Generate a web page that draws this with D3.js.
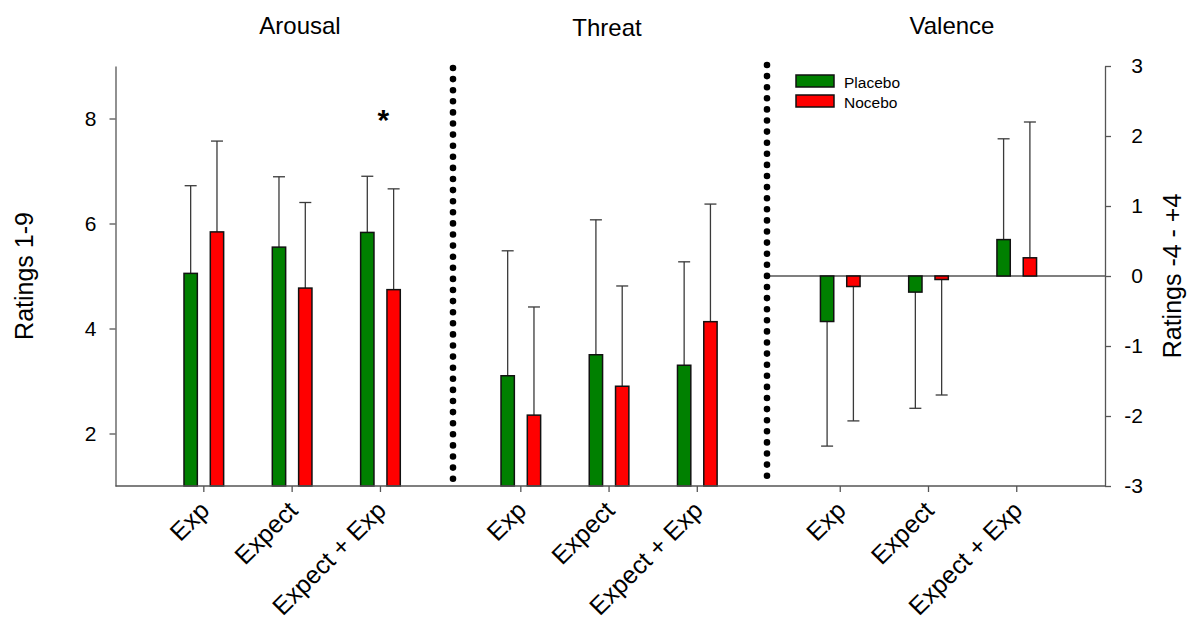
<!DOCTYPE html>
<html>
<head>
<meta charset="utf-8">
<script src="https://cdn.jsdelivr.net/npm/d3@7"></script>
<style>
  html, body { margin: 0; padding: 0; background: #fff; }
  svg { display: block; }
  text { font-family: Arial, "Liberation Sans", sans-serif; fill: #000; }
</style>
</head>
<body>
<svg id="chart" width="1189" height="619"></svg>
<script>
// Conditions along the x axis of each panel
const categories = ["Exp", "Expect", "Expect + Exp"];
const panelTitles = ["Arousal", "Threat", "Valence"];
const seriesNames = ["Placebo", "Nocebo"];
const seriesColors = ["#008000", "#ff0000"];

// Mean ratings and SD (error bars drawn away from the baseline)
const arousalPlacebo = [5.05, 5.55, 5.83];
const arousalPlaceboSD = [1.67, 1.34, 1.07];
const arousalNocebo = [5.84, 4.77, 4.74];
const arousalNoceboSD = [1.73, 1.63, 1.92];

const threatPlacebo = [3.10, 3.50, 3.30];
const threatPlaceboSD = [2.38, 2.57, 1.97];
const threatNocebo = [2.35, 2.90, 4.13];
const threatNoceboSD = [2.06, 1.91, 2.24];

const valencePlacebo = [-0.65, -0.23, 0.52];
const valencePlaceboSD = [1.78, 1.66, 1.44];
const valenceNocebo = [-0.15, -0.05, 0.26];
const valenceNoceboSD = [1.92, 1.65, 1.94];

// Axis ticks
const leftTicks = [2, 4, 6, 8];
const rightTicks = [-3, -2, -1, 0, 1, 2, 3];

// Significance marker: panel index, category, level on the 1-9 scale
const significance = [{ panel: 0, category: "Expect + Exp", level: 8.12, label: "*" }];

const svg = d3.select("#chart");

const plotTop = 66, plotBottom = 486;
const plotLeft = 115.5, plotRight = 1105;

const yLeft = d3.scaleLinear().domain([1, 9]).range([plotBottom, plotTop]);
const yRight = d3.scaleLinear().domain([-3, 3]).range([plotBottom, plotTop]);

// Each panel has its own position scale (category index 1..3)
const panelLayout = [
  { range: [plotLeft, 452], domain: [0, 3.81] },
  { range: [452, 767], domain: [0.22, 3.79] },
  { range: [767, plotRight], domain: [0.17, 4.0] }
];
const xScales = panelLayout.map(p => d3.scaleLinear().domain(p.domain).range(p.range));

const panels = [
  { y: yLeft, base: 1, series: [[arousalPlacebo, arousalPlaceboSD], [arousalNocebo, arousalNoceboSD]] },
  { y: yLeft, base: 1, series: [[threatPlacebo, threatPlaceboSD], [threatNocebo, threatNoceboSD]] },
  { y: yRight, base: 0, series: [[valencePlacebo, valencePlaceboSD], [valenceNocebo, valenceNoceboSD]] }
];

const barWidth = 0.151;   // in category units
const barOffset = 0.149;  // centre offset of each bar from the category tick
const capHalf = 6;        // px
const fontStack = "Arial, 'Liberation Sans', sans-serif";

// Zero line in the valence panel
svg.append("line")
  .attr("x1", panelLayout[2].range[0]).attr("x2", plotRight)
  .attr("y1", yRight(0)).attr("y2", yRight(0))
  .attr("stroke", "#000").attr("stroke-width", 1.1);

// Bars and error bars
panels.forEach((panel, pi) => {
  const x = xScales[pi];
  const g = svg.append("g");
  panel.series.forEach(([means, sds], si) => {
    const dx = si === 0 ? -barOffset : barOffset;
    categories.forEach((cat, ci) => {
      const pos = ci + 1 + dx;
      const v = means[ci];
      const sd = sds[ci];
      const end = v >= panel.base ? v + sd : v - sd;
      const cx = x(pos);
      // error bar
      g.append("line")
        .attr("x1", cx).attr("x2", cx)
        .attr("y1", panel.y(v)).attr("y2", panel.y(end))
        .attr("stroke", "#3a3a3a").attr("stroke-width", 1.3);
      g.append("line")
        .attr("x1", cx - capHalf).attr("x2", cx + capHalf)
        .attr("y1", panel.y(end)).attr("y2", panel.y(end))
        .attr("stroke", "#3a3a3a").attr("stroke-width", 1.3);
      // bar
      const x0 = x(pos - barWidth / 2), x1 = x(pos + barWidth / 2);
      g.append("rect")
        .attr("x", x0).attr("width", x1 - x0)
        .attr("y", Math.min(panel.y(v), panel.y(panel.base)))
        .attr("height", Math.abs(panel.y(v) - panel.y(panel.base)))
        .attr("fill", seriesColors[si])
        .attr("stroke", "#111").attr("stroke-width", 1.5);
    });
  });

  // category ticks and labels
  categories.forEach((cat, ci) => {
    const tx = x(ci + 1);
    svg.append("line")
      .attr("x1", tx).attr("x2", tx)
      .attr("y1", plotBottom).attr("y2", plotBottom + 6)
      .attr("stroke", "#555").attr("stroke-width", 1.3);
    svg.append("text")
      .attr("transform", `translate(${tx + 7},${plotBottom + 26}) rotate(-45)`)
      .attr("text-anchor", "end")
      .style("font-size", "25px")
      .text(cat);
  });

  // panel title
  const titleX = [300, 607, 952][pi];
  const titleY = [34, 36, 34][pi];
  svg.append("text")
    .attr("x", titleX).attr("y", titleY)
    .attr("text-anchor", "middle")
    .style("font-size", "24px")
    .text(panelTitles[pi]);
});

// Left axis
const leftAxis = svg.append("g").attr("transform", `translate(${plotLeft},0)`)
  .call(d3.axisLeft(yLeft).tickValues(leftTicks).tickSize(6).tickPadding(13)
    .tickSizeOuter(0).tickFormat(d => String(d)));
leftAxis.select(".domain").attr("stroke", "#555").attr("stroke-width", 1.3);
leftAxis.selectAll(".tick line").attr("stroke", "#555").attr("stroke-width", 1.3);
leftAxis.selectAll(".tick text").style("font-size", "21px").style("font-family", fontStack);

// Right axis (labels right-aligned, as in the plotting package)
const rightAxis = svg.append("g").attr("transform", `translate(${plotRight},0)`)
  .call(d3.axisRight(yRight).tickValues(rightTicks).tickSize(6)
    .tickSizeOuter(0).tickFormat(d => String(d)));
rightAxis.select(".domain").attr("stroke", "#555").attr("stroke-width", 1.3);
rightAxis.selectAll(".tick line").attr("stroke", "#555").attr("stroke-width", 1.3);
rightAxis.selectAll(".tick text")
  .attr("x", 38).attr("text-anchor", "end")
  .style("font-size", "21px").style("font-family", fontStack);

// Bottom axis line
svg.append("line")
  .attr("x1", plotLeft).attr("x2", plotRight)
  .attr("y1", plotBottom).attr("y2", plotBottom)
  .attr("stroke", "#555").attr("stroke-width", 1.3);

// Dotted separators between panels
[453, 767].forEach((sx, i) => {
  svg.append("line")
    .attr("x1", sx).attr("x2", sx)
    .attr("y1", i === 0 ? 68 : 65).attr("y2", i === 0 ? 482 : 477)
    .attr("stroke", "#000").attr("stroke-width", 6.6)
    .attr("stroke-linecap", "round")
    .attr("stroke-dasharray", "0 11.1");
});

// Axis titles
svg.append("text")
  .attr("transform", `translate(33,276) rotate(-90)`)
  .attr("text-anchor", "middle")
  .style("font-size", "25px")
  .text("Ratings 1-9");
svg.append("text")
  .attr("transform", `translate(1181,276) rotate(-90)`)
  .attr("text-anchor", "middle")
  .style("font-size", "25px")
  .text("Ratings -4 - +4");

// Significance markers
significance.forEach(s => {
  const x = xScales[s.panel];
  svg.append("text")
    .attr("x", x(categories.indexOf(s.category) + 1) + 3)
    .attr("y", panels[s.panel].y(s.level))
    .attr("dy", "0.6em")
    .attr("text-anchor", "middle")
    .style("font-size", "30px")
    .style("font-weight", "bold")
    .text(s.label);
});

// Legend
const legend = svg.append("g").attr("transform", "translate(796,75)");
seriesNames.forEach((name, i) => {
  legend.append("rect")
    .attr("x", 0).attr("y", i * 20)
    .attr("width", 38).attr("height", 12)
    .attr("fill", seriesColors[i])
    .attr("stroke", "#111").attr("stroke-width", 1.5);
  legend.append("text")
    .attr("x", 48).attr("y", i * 20 + 13)
    .style("font-size", "15.5px")
    .text(name);
});
</script>
</body>
</html>
